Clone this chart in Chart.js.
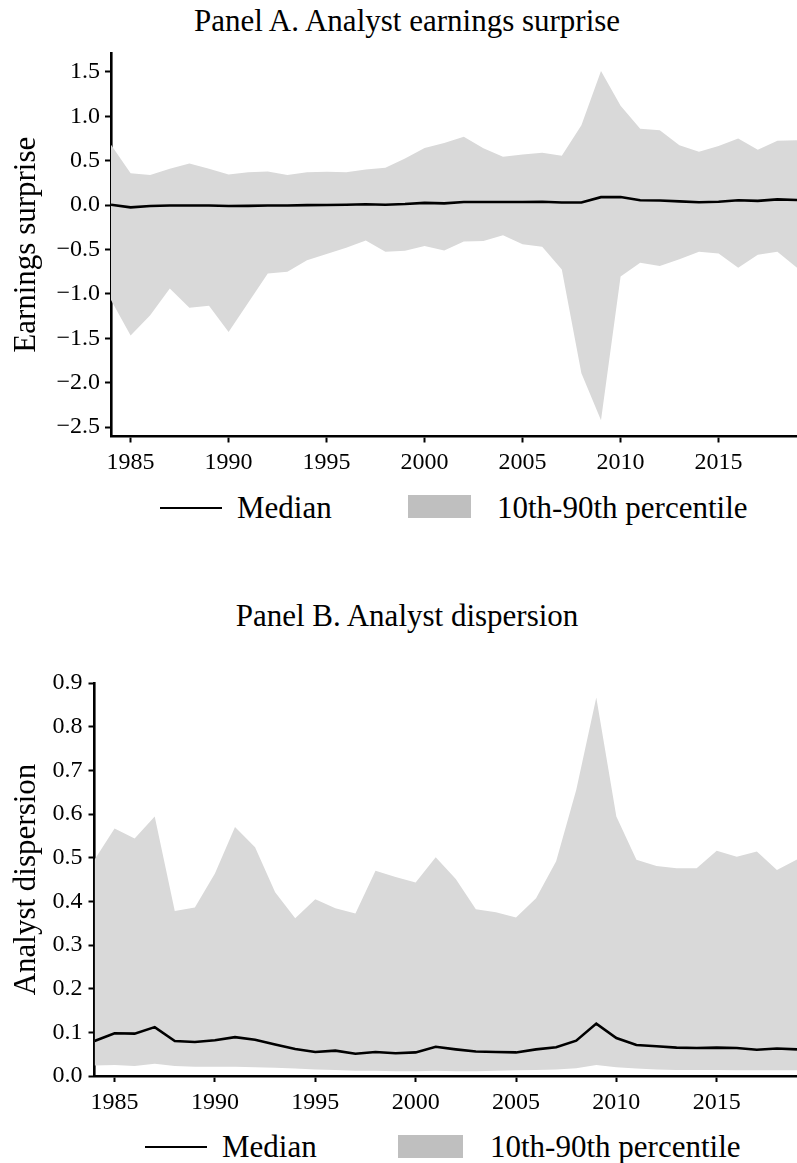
<!DOCTYPE html>
<html>
<head>
<meta charset="utf-8">
<script src="https://cdn.jsdelivr.net/npm/chart.js@4.4.1/dist/chart.umd.min.js"></script>
<style>
  body { margin: 0; background: #fff; font-family: "Liberation Serif", "Times New Roman", Times, "DejaVu Serif", serif; color: #000; }
  #page { position: relative; width: 797px; height: 1163px; overflow: hidden; }
  canvas { position: absolute; left: 0; }
  .panel-title { position: absolute; font-size: 31px; line-height: 31px; white-space: nowrap; transform: translateX(-50%); }
  .legend-line { position: absolute; height: 0; border-top: 2.6px solid #000; }
  .legend-patch { position: absolute; background: #bfbfbf; }
  .legend-text { position: absolute; font-size: 31px; line-height: 31px; white-space: nowrap; }
</style>
</head>
<body>
<div id="page">
  <div class="panel-title" style="left:407px; top:5px;">Panel A. Analyst earnings surprise</div>
  <canvas id="surprise-chart" width="797" height="480" style="top:0;"></canvas>
  <div class="legend-line" style="left:160px; width:62px; top:507px;"></div>
  <div class="legend-text" style="left:237px; top:492px;">Median</div>
  <div class="legend-patch" style="left:408px; width:63px; top:495px; height:23px;"></div>
  <div class="legend-text" style="left:497px; top:492px;">10th-90th percentile</div>

  <div class="panel-title" style="left:407px; top:600px;">Panel B. Analyst dispersion</div>
  <canvas id="dispersion-chart" width="797" height="480" style="top:640px;"></canvas>
  <div class="legend-line" style="left:145px; width:62px; top:1146px;"></div>
  <div class="legend-text" style="left:222px; top:1131px;">Median</div>
  <div class="legend-patch" style="left:398px; width:65px; top:1135px; height:23px;"></div>
  <div class="legend-text" style="left:490px; top:1131px;">10th-90th percentile</div>
</div>

<script>
// yearly cross-section stats, 1984-2019
const years = [1984, 1985, 1986, 1987, 1988, 1989, 1990, 1991, 1992, 1993, 1994, 1995,
               1996, 1997, 1998, 1999, 2000, 2001, 2002, 2003, 2004, 2005, 2006, 2007,
               2008, 2009, 2010, 2011, 2012, 2013, 2014, 2015, 2016, 2017, 2018, 2019];
const yearTicks = [1985, 1990, 1995, 2000, 2005, 2010, 2015];

// Panel A: earnings surprise
const surpriseP90 = [0.68, 0.36, 0.34, 0.41, 0.47, 0.41, 0.345, 0.37, 0.38, 0.34, 0.37, 0.375,
                     0.37, 0.40, 0.42, 0.525, 0.645, 0.70, 0.77, 0.64, 0.545, 0.57, 0.59, 0.555,
                     0.90, 1.51, 1.12, 0.86, 0.845, 0.675, 0.60, 0.665, 0.75, 0.625, 0.725, 0.73];
const surpriseP10 = [-1.07, -1.47, -1.24, -0.94, -1.155, -1.135, -1.43, -1.10, -0.77, -0.75, -0.62, -0.55,
                     -0.48, -0.40, -0.525, -0.515, -0.46, -0.51, -0.41, -0.405, -0.34, -0.44, -0.47, -0.725,
                     -1.895, -2.425, -0.805, -0.65, -0.685, -0.61, -0.525, -0.545, -0.705, -0.56, -0.525, -0.705];
const surpriseMedian = [0.005, -0.025, -0.01, -0.005, -0.005, -0.005, -0.01, -0.008, -0.005, -0.005, 0.0, 0.002,
                        0.005, 0.01, 0.005, 0.012, 0.025, 0.02, 0.035, 0.035, 0.035, 0.035, 0.038, 0.03,
                        0.03, 0.09, 0.092, 0.055, 0.052, 0.042, 0.032, 0.038, 0.055, 0.048, 0.065, 0.058];
const surpriseTicks = [-2.5, -2.0, -1.5, -1.0, -0.5, 0.0, 0.5, 1.0, 1.5];

// Panel B: analyst dispersion
const dispersionP90 = [0.495, 0.567, 0.544, 0.594, 0.378, 0.386, 0.464, 0.570, 0.524, 0.421, 0.361, 0.405,
                       0.384, 0.372, 0.470, 0.456, 0.443, 0.501, 0.451, 0.382, 0.375, 0.363, 0.407, 0.492,
                       0.655, 0.867, 0.594, 0.495, 0.481, 0.476, 0.476, 0.516, 0.502, 0.514, 0.472, 0.496];
const dispersionP10 = [0.024, 0.025, 0.023, 0.028, 0.023, 0.021, 0.021, 0.021, 0.020, 0.019, 0.017, 0.015,
                       0.014, 0.012, 0.012, 0.011, 0.011, 0.012, 0.011, 0.011, 0.012, 0.013, 0.014, 0.015,
                       0.018, 0.025, 0.020, 0.017, 0.015, 0.014, 0.014, 0.014, 0.013, 0.013, 0.013, 0.013];
const dispersionMedian = [0.080, 0.098, 0.097, 0.112, 0.080, 0.078, 0.082, 0.089, 0.083, 0.072, 0.062, 0.055,
                          0.058, 0.051, 0.055, 0.052, 0.054, 0.067, 0.061, 0.056, 0.055, 0.054, 0.061, 0.066,
                          0.081, 0.120, 0.087, 0.071, 0.068, 0.065, 0.064, 0.065, 0.064, 0.060, 0.063, 0.061];
const dispersionTicks = [0.0, 0.1, 0.2, 0.3, 0.4, 0.5, 0.6, 0.7, 0.8, 0.9];

const BAND_GREY = '#d9d9d9';
const FONT = "'Liberation Serif', 'Times New Roman', Times, 'DejaVu Serif', serif";

function toPoints(values) {
  return values.map((v, i) => ({ x: years[i], y: v }));
}

function fmtTick(v) {
  const s = Math.abs(v).toFixed(1);
  return v < -1e-9 ? '\u2212' + s : s;
}

function makePanel(id, cfg) {
  const ctx = document.getElementById(id).getContext('2d');
  return new Chart(ctx, {
    type: 'line',
    data: {
      datasets: [
        {
          label: 'Median',
          data: toPoints(cfg.median),
          borderColor: '#000',
          borderWidth: 2.6,
          pointRadius: 0,
          tension: 0,
          fill: false,
          order: 0
        },
        {
          label: '10th percentile',
          data: toPoints(cfg.lower),
          borderWidth: 0,
          borderColor: 'rgba(0,0,0,0)',
          pointRadius: 0,
          fill: false,
          order: 2
        },
        {
          label: '10th-90th percentile',
          data: toPoints(cfg.upper),
          borderWidth: 0,
          borderColor: 'rgba(0,0,0,0)',
          backgroundColor: BAND_GREY,
          pointRadius: 0,
          fill: '-1',
          order: 1
        }
      ]
    },
    options: {
      responsive: false,
      animation: false,
      layout: { padding: { top: cfg.padTop, left: 0, right: 0, bottom: 0 }, autoPadding: false },
      plugins: {
        legend: { display: false },
        tooltip: { enabled: false },
        filler: { propagate: false }
      },
      scales: {
        x: {
          type: 'linear',
          min: 1984,
          max: 2019,
          afterBuildTicks: s => { s.ticks = yearTicks.map(v => ({ value: v })); },
          afterFit: s => { s.height = cfg.xHeight; },
          border: { display: true, color: '#000', width: 2.6 },
          grid: { drawOnChartArea: false, drawTicks: true, tickLength: 6, tickWidth: 2, tickColor: '#000' },
          ticks: {
            autoSkip: false,
            maxRotation: 0,
            padding: 6,
            color: '#000',
            font: { family: FONT, size: 24 },
            callback: v => String(v)
          }
        },
        y: {
          type: 'linear',
          min: cfg.yMin,
          max: cfg.yMax,
          afterBuildTicks: s => { s.ticks = cfg.yTicks.map(v => ({ value: v })); },
          afterFit: s => { s.width = cfg.yWidth; },
          border: { display: true, color: '#000', width: 2.6 },
          grid: { drawOnChartArea: false, drawTicks: true, tickLength: 6, tickWidth: 2, tickColor: '#000' },
          title: {
            display: true,
            text: cfg.yLabel,
            color: '#000',
            font: { family: FONT, size: 31 },
            padding: { top: 8, bottom: 0 }
          },
          ticks: {
            autoSkip: false,
            padding: cfg.yTickPad,
            color: '#000',
            font: { family: FONT, size: 24 },
            callback: fmtTick
          }
        }
      }
    }
  });
}

makePanel('surprise-chart', {
  lower: surpriseP10, upper: surpriseP90, median: surpriseMedian,
  yMin: -2.607, yMax: 1.714, yTicks: surpriseTicks,
  yLabel: 'Earnings surprise',
  padTop: 53, xHeight: 43.5, yWidth: 111, yTickPad: 5
});

makePanel('dispersion-chart', {
  lower: dispersionP10, upper: dispersionP90, median: dispersionMedian,
  yMin: 0, yMax: 0.9, yTicks: dispersionTicks,
  yLabel: 'Analyst dispersion',
  padTop: 43, xHeight: 44, yWidth: 94.5, yTickPad: 6
});
</script>
</body>
</html>
